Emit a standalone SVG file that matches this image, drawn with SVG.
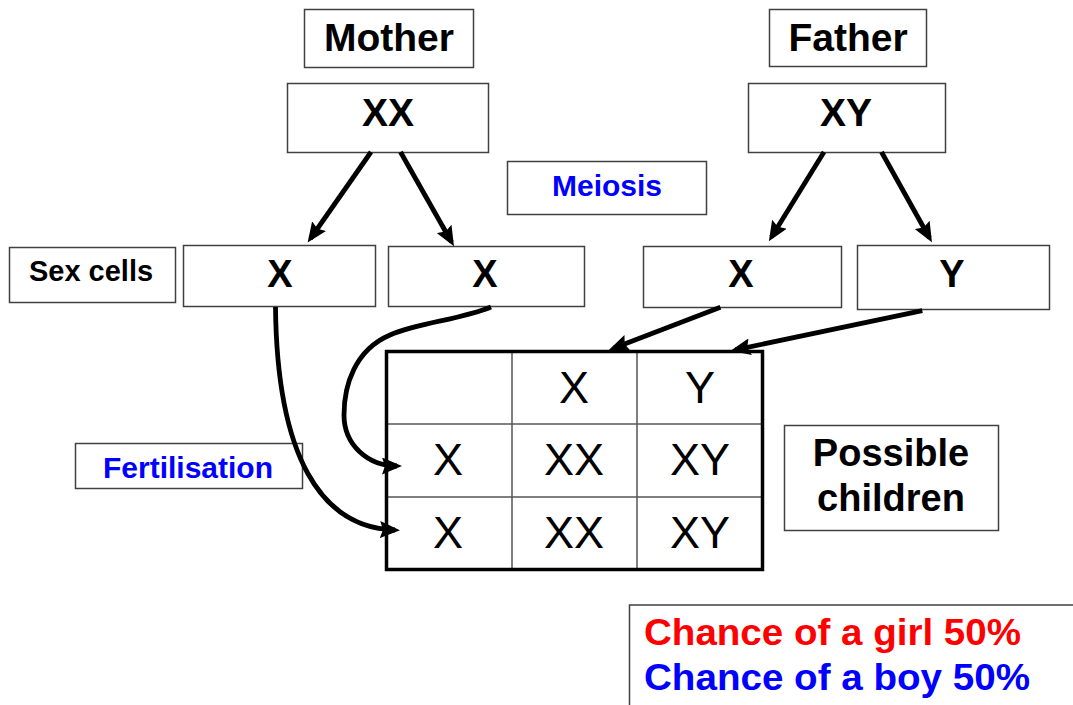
<svg xmlns="http://www.w3.org/2000/svg" width="1073" height="705" viewBox="0 0 1073 705">
<style>
.box{fill:#fff;stroke:#404040;stroke-width:1.5}
.b{font-family:"Liberation Sans",Arial,sans-serif;font-weight:bold;text-anchor:middle;fill:#000}
.r{font-family:"Liberation Sans",Arial,sans-serif;text-anchor:middle;fill:#000;font-size:45px}
.blue{fill:#0000ff}
.con{fill:none;stroke:#000;stroke-width:4.8}
.grid{stroke:#555;stroke-width:1.5}
</style>
<defs>
<marker id="ah" markerUnits="userSpaceOnUse" markerWidth="20" markerHeight="17" refX="15" refY="8.5" orient="auto" viewBox="0 0 20 17">
<path d="M0,0 L20,8.5 L0,17 L3,8.5 z" fill="#000"/>
</marker>
</defs>
<rect width="1073" height="705" fill="#fff"/>

<g id="mother"><rect class="box" x="304.5" y="9.5" width="169" height="58"/><text class="b" x="389" y="51" font-size="39">Mother</text></g>
<g id="father"><rect class="box" x="769.5" y="9.5" width="157" height="57"/><text class="b" x="848" y="51" font-size="39">Father</text></g>
<g id="mother-xx"><rect class="box" x="287.5" y="83.5" width="201" height="69"/><text class="b" x="388" y="126" font-size="39">XX</text></g>
<g id="father-xy"><rect class="box" x="748.5" y="83.5" width="197" height="69"/><text class="b" x="846" y="126" font-size="39">XY</text></g>
<g id="meiosis"><rect class="box" x="507.5" y="161.5" width="199" height="53"/><text class="b blue" x="607" y="196" font-size="30">Meiosis</text></g>
<g id="sex-cells"><rect class="box" x="9.5" y="247.5" width="166" height="55"/><text class="b" x="91" y="281" font-size="29">Sex cells</text></g>
<g id="mother-x1"><rect class="box" x="183.5" y="245.5" width="192" height="61"/><text class="b" x="280" y="287" font-size="38">X</text></g>
<g id="mother-x2"><rect class="box" x="388.5" y="246.5" width="196" height="60"/><text class="b" x="485" y="287" font-size="38">X</text></g>
<g id="father-x"><rect class="box" x="643.5" y="246.5" width="198" height="61"/><text class="b" x="741" y="287" font-size="38">X</text></g>
<g id="father-y"><rect class="box" x="857.5" y="245.5" width="192" height="64"/><text class="b" x="952" y="287" font-size="38">Y</text></g>
<g id="fertilisation"><rect class="box" x="75.5" y="443.5" width="227" height="45"/><text class="b blue" x="188" y="478" font-size="30">Fertilisation</text></g>

<g id="punnett">
<line class="grid" x1="512" y1="351" x2="512" y2="570"/>
<line class="grid" x1="637" y1="351" x2="637" y2="570"/>
<line class="grid" x1="386" y1="424" x2="763" y2="424"/>
<line class="grid" x1="386" y1="497" x2="763" y2="497"/>
<rect x="386.5" y="351.5" width="376" height="218" fill="none" stroke="#000" stroke-width="3.5"/>
<text class="r" x="574" y="403">X</text>
<text class="r" x="700" y="403">Y</text>
<text class="r" x="448" y="475">X</text>
<text class="r" x="574" y="475">XX</text>
<text class="r" x="700" y="475">XY</text>
<text class="r" x="448" y="548">X</text>
<text class="r" x="574" y="548">XX</text>
<text class="r" x="700" y="548">XY</text>
</g>

<g id="possible-children"><rect class="box" x="784.5" y="425.5" width="214" height="105"/><text class="b" x="891" y="466" font-size="38">Possible</text><text class="b" x="891" y="511" font-size="38">children</text></g>

<g id="chances"><rect class="box" x="629.5" y="605" width="460" height="120"/>
<text font-family="'Liberation Sans',Arial,sans-serif" font-weight="bold" font-size="37" fill="#ff0000" x="644" y="645" textLength="377" lengthAdjust="spacingAndGlyphs">Chance of a girl 50%</text>
<text font-family="'Liberation Sans',Arial,sans-serif" font-weight="bold" font-size="37" fill="#0000ff" x="644" y="690" textLength="386" lengthAdjust="spacingAndGlyphs">Chance of a boy 50%</text>
</g>

<g id="connectors">
<line class="con" x1="371" y1="152" x2="310.5" y2="238.5" marker-end="url(#ah)"/>
<line class="con" x1="400.5" y1="152" x2="451.5" y2="242" marker-end="url(#ah)"/>
<line class="con" x1="824" y1="152" x2="771.5" y2="237" marker-end="url(#ah)"/>
<line class="con" x1="881.5" y1="152" x2="929.5" y2="238" marker-end="url(#ah)"/>
<line class="con" x1="720.4" y1="307.3" x2="613.5" y2="348.3" marker-end="url(#ah)"/>
<line class="con" x1="922.3" y1="310.7" x2="735.5" y2="349.8" marker-end="url(#ah)"/>
<path class="con" d="M275.5,307 C277,455 320,528 395,530" marker-end="url(#ah)"/>
<path class="con" d="M491,307 C460,320 420,322 390,335 C355,350 344,385 344,415 C344,445 368,466 397,466" marker-end="url(#ah)"/>
</g>
</svg>
